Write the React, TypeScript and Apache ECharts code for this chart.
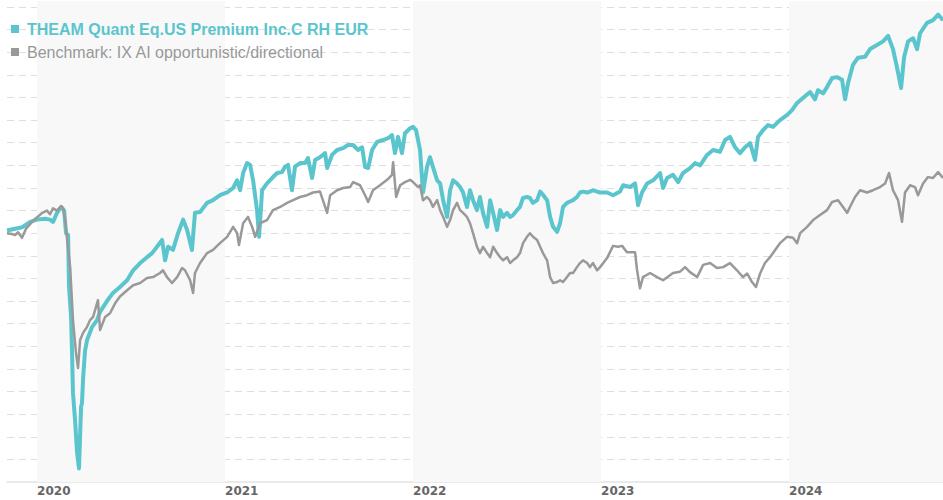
import React, { useEffect, useRef } from "react";
import * as echarts from "echarts";

const seriesNames = [
  "THEAM Quant Eq.US Premium Inc.C RH EUR",
  "Benchmark: IX AI opportunistic/directional",
];
const yearTicks = [2020, 2021, 2022, 2023, 2024];
const shadedYears = [2020, 2022, 2024];
const xStart = 2019.84;
const xEnd = 2024.819;

// time in decimal years
const tealX = [2019.840, 2019.883, 2019.920, 2019.963, 2020.000, 2020.043, 2020.069, 2020.085, 2020.106, 2020.128, 2020.144, 2020.154, 2020.165, 2020.170, 2020.181, 2020.186, 2020.191, 2020.202, 2020.213, 2020.223, 2020.234, 2020.239, 2020.245, 2020.255, 2020.266, 2020.293, 2020.319, 2020.335, 2020.372, 2020.404, 2020.441, 2020.479, 2020.511, 2020.548, 2020.585, 2020.612, 2020.638, 2020.665, 2020.681, 2020.697, 2020.723, 2020.750, 2020.777, 2020.798, 2020.824, 2020.840, 2020.867, 2020.904, 2020.936, 2020.973, 2021.011, 2021.043, 2021.064, 2021.080, 2021.096, 2021.117, 2021.133, 2021.149, 2021.170, 2021.181, 2021.197, 2021.223, 2021.250, 2021.277, 2021.303, 2021.319, 2021.335, 2021.356, 2021.372, 2021.399, 2021.426, 2021.441, 2021.463, 2021.479, 2021.505, 2021.532, 2021.543, 2021.569, 2021.596, 2021.628, 2021.654, 2021.681, 2021.707, 2021.729, 2021.745, 2021.761, 2021.782, 2021.809, 2021.840, 2021.867, 2021.888, 2021.904, 2021.920, 2021.941, 2021.957, 2021.984, 2022.000, 2022.016, 2022.037, 2022.053, 2022.074, 2022.090, 2022.106, 2022.128, 2022.144, 2022.160, 2022.181, 2022.197, 2022.213, 2022.234, 2022.250, 2022.266, 2022.287, 2022.303, 2022.319, 2022.340, 2022.356, 2022.372, 2022.394, 2022.410, 2022.426, 2022.447, 2022.463, 2022.479, 2022.500, 2022.516, 2022.532, 2022.553, 2022.569, 2022.585, 2022.606, 2022.622, 2022.638, 2022.660, 2022.676, 2022.691, 2022.713, 2022.729, 2022.745, 2022.766, 2022.782, 2022.798, 2022.819, 2022.835, 2022.851, 2022.872, 2022.888, 2022.904, 2022.926, 2022.941, 2022.957, 2022.979, 2022.995, 2023.032, 2023.064, 2023.101, 2023.117, 2023.154, 2023.181, 2023.197, 2023.218, 2023.245, 2023.277, 2023.314, 2023.330, 2023.351, 2023.383, 2023.410, 2023.436, 2023.473, 2023.500, 2023.527, 2023.564, 2023.596, 2023.633, 2023.660, 2023.686, 2023.713, 2023.739, 2023.766, 2023.793, 2023.819, 2023.835, 2023.862, 2023.888, 2023.915, 2023.952, 2023.989, 2024.016, 2024.043, 2024.074, 2024.112, 2024.138, 2024.154, 2024.181, 2024.202, 2024.229, 2024.255, 2024.282, 2024.298, 2024.314, 2024.340, 2024.367, 2024.404, 2024.431, 2024.468, 2024.500, 2024.527, 2024.553, 2024.574, 2024.596, 2024.612, 2024.633, 2024.660, 2024.681, 2024.697, 2024.734, 2024.766, 2024.793, 2024.819];

const tealY = [100.6, 101.0, 101.3, 102.5, 103.0, 103.2, 103.0, 102.5, 104.5, 105.8, 105.0, 100.0, 99.6, 88.0, 81.5, 73.5, 64.7, 58.7, 51.4, 48.0, 61.6, 62.5, 68.0, 74.0, 76.4, 79.3, 80.8, 82.6, 85.0, 86.8, 88.1, 89.6, 91.8, 93.4, 94.7, 95.6, 97.0, 98.5, 94.0, 97.0, 96.3, 100.0, 103.0, 100.7, 96.3, 104.5, 104.7, 106.7, 107.3, 108.4, 109.0, 110.0, 111.7, 109.5, 113.3, 115.5, 115.1, 111.7, 105.1, 99.2, 109.5, 111.0, 112.2, 113.3, 113.5, 114.7, 115.1, 109.5, 114.7, 115.5, 115.5, 116.6, 112.2, 116.2, 116.8, 117.7, 114.4, 117.3, 118.4, 118.8, 119.5, 119.5, 118.4, 119.0, 114.6, 114.4, 118.4, 120.2, 120.6, 121.0, 121.7, 117.7, 121.3, 117.7, 122.1, 123.2, 123.5, 122.8, 118.4, 109.0, 114.6, 116.8, 114.6, 111.7, 111.0, 107.3, 103.6, 109.5, 111.7, 111.0, 110.2, 109.0, 105.8, 109.5, 107.3, 105.1, 108.0, 104.5, 101.4, 107.3, 104.5, 100.7, 105.1, 103.6, 104.5, 103.6, 104.0, 105.1, 105.8, 107.8, 108.0, 107.8, 106.7, 107.3, 109.2, 108.5, 107.3, 103.6, 101.4, 100.3, 102.2, 105.8, 106.7, 107.0, 107.3, 108.0, 109.0, 109.2, 109.0, 109.2, 109.5, 109.2, 109.0, 109.0, 108.4, 109.2, 110.6, 110.2, 111.0, 106.2, 109.0, 111.0, 111.7, 113.3, 110.0, 112.2, 112.9, 111.3, 113.3, 114.4, 115.5, 115.0, 117.3, 118.4, 118.0, 120.6, 121.3, 119.0, 117.7, 119.0, 119.9, 116.2, 121.3, 122.8, 123.9, 123.5, 125.0, 126.1, 127.2, 128.8, 129.9, 131.2, 129.6, 131.6, 130.9, 132.3, 134.3, 134.5, 133.9, 129.6, 133.2, 137.2, 138.8, 139.0, 140.7, 141.6, 142.4, 143.6, 140.7, 136.7, 132.1, 138.9, 142.4, 143.1, 140.7, 144.2, 146.5, 147.1, 148.3, 147.1];

const benchX = [2019.840, 2019.867, 2019.883, 2019.899, 2019.920, 2019.941, 2019.963, 2019.984, 2020.000, 2020.027, 2020.053, 2020.069, 2020.085, 2020.106, 2020.128, 2020.138, 2020.149, 2020.160, 2020.176, 2020.191, 2020.207, 2020.218, 2020.229, 2020.245, 2020.266, 2020.282, 2020.298, 2020.324, 2020.335, 2020.362, 2020.388, 2020.415, 2020.441, 2020.479, 2020.511, 2020.548, 2020.585, 2020.617, 2020.654, 2020.670, 2020.691, 2020.718, 2020.745, 2020.771, 2020.787, 2020.814, 2020.830, 2020.840, 2020.867, 2020.904, 2020.936, 2020.973, 2021.011, 2021.043, 2021.064, 2021.074, 2021.096, 2021.122, 2021.144, 2021.160, 2021.186, 2021.223, 2021.255, 2021.293, 2021.330, 2021.362, 2021.399, 2021.436, 2021.468, 2021.505, 2021.543, 2021.559, 2021.596, 2021.628, 2021.665, 2021.681, 2021.718, 2021.745, 2021.761, 2021.787, 2021.824, 2021.862, 2021.888, 2021.894, 2021.910, 2021.931, 2021.957, 2021.984, 2022.000, 2022.027, 2022.037, 2022.053, 2022.074, 2022.090, 2022.106, 2022.128, 2022.144, 2022.160, 2022.181, 2022.197, 2022.213, 2022.234, 2022.250, 2022.266, 2022.287, 2022.303, 2022.319, 2022.340, 2022.356, 2022.372, 2022.394, 2022.410, 2022.426, 2022.447, 2022.463, 2022.479, 2022.500, 2022.516, 2022.532, 2022.553, 2022.569, 2022.585, 2022.606, 2022.622, 2022.638, 2022.660, 2022.676, 2022.691, 2022.713, 2022.729, 2022.745, 2022.766, 2022.782, 2022.798, 2022.819, 2022.835, 2022.851, 2022.872, 2022.888, 2022.904, 2022.926, 2022.941, 2022.957, 2022.979, 2022.995, 2023.032, 2023.064, 2023.090, 2023.112, 2023.138, 2023.181, 2023.191, 2023.207, 2023.223, 2023.261, 2023.298, 2023.330, 2023.383, 2023.420, 2023.447, 2023.473, 2023.511, 2023.543, 2023.580, 2023.617, 2023.649, 2023.686, 2023.723, 2023.755, 2023.777, 2023.803, 2023.824, 2023.846, 2023.872, 2023.899, 2023.926, 2023.952, 2023.989, 2024.021, 2024.043, 2024.059, 2024.096, 2024.128, 2024.165, 2024.202, 2024.229, 2024.261, 2024.287, 2024.309, 2024.324, 2024.351, 2024.378, 2024.415, 2024.447, 2024.484, 2024.511, 2024.532, 2024.553, 2024.580, 2024.601, 2024.617, 2024.644, 2024.670, 2024.686, 2024.713, 2024.739, 2024.766, 2024.793, 2024.819];

const benchY = [100.0, 99.8, 99.6, 100.2, 99.0, 101.0, 102.0, 103.0, 103.5, 104.5, 105.0, 104.2, 105.5, 105.0, 106.0, 105.6, 103.0, 98.5, 92.5, 80.8, 73.5, 70.2, 76.4, 78.0, 79.3, 80.8, 81.5, 85.2, 78.6, 81.5, 82.3, 84.5, 86.0, 87.4, 88.5, 89.0, 90.1, 90.3, 91.2, 91.8, 90.3, 89.0, 90.3, 92.3, 91.8, 89.6, 86.8, 91.2, 93.4, 95.6, 96.3, 97.8, 99.2, 101.4, 100.0, 97.4, 102.2, 103.6, 101.4, 99.2, 102.2, 102.9, 105.1, 105.8, 106.7, 107.3, 108.0, 108.4, 109.0, 109.2, 104.5, 108.4, 109.5, 110.0, 110.2, 111.3, 110.6, 108.4, 106.9, 109.5, 110.6, 111.8, 112.9, 115.7, 108.0, 110.6, 111.3, 111.8, 111.3, 110.2, 110.6, 107.3, 108.0, 107.3, 105.8, 107.3, 105.1, 103.6, 101.4, 102.9, 105.1, 106.7, 105.1, 104.5, 103.6, 102.2, 100.0, 97.0, 95.6, 97.0, 95.6, 94.7, 97.0, 95.6, 94.7, 94.0, 94.7, 93.4, 94.0, 94.7, 95.6, 97.8, 99.2, 100.0, 99.2, 98.5, 97.0, 95.6, 94.0, 90.3, 89.0, 89.2, 89.6, 89.2, 90.3, 91.2, 91.2, 92.5, 93.4, 94.0, 93.4, 92.5, 93.4, 91.8, 92.5, 94.5, 97.2, 97.0, 97.2, 95.8, 95.8, 92.0, 87.8, 90.3, 91.2, 90.3, 89.6, 91.2, 91.5, 92.5, 91.4, 90.3, 93.0, 93.4, 92.3, 92.5, 93.4, 91.8, 90.3, 91.1, 89.2, 88.1, 91.1, 93.4, 94.7, 96.3, 97.8, 99.2, 99.0, 97.8, 100.0, 101.4, 102.9, 104.0, 105.1, 106.9, 107.3, 105.8, 104.5, 105.8, 108.0, 109.5, 109.0, 109.5, 110.2, 111.0, 113.3, 109.5, 107.3, 102.5, 109.0, 110.6, 110.2, 108.4, 111.0, 112.4, 112.2, 113.5, 112.2];

const TEAL = "#5bc5cd";
const GRAY = "#999999";

export default function App() {
  const ref = useRef<HTMLDivElement>(null);
  useEffect(() => {
    document.body.style.margin = "0";
    if (!ref.current) return;
    const chart = echarts.init(ref.current, null, { renderer: "svg" });
    chart.setOption({
      animation: false,
      backgroundColor: "#ffffff",
      grid: { left: 7, right: 0, top: 1, bottom: 18, containLabel: false },
      legend: {
        orient: "vertical",
        left: 11,
        top: 21,
        padding: 0,
        itemWidth: 8,
        itemHeight: 8,
        itemGap: 7,
        selectedMode: false,
        textStyle: {
          fontFamily: "Liberation Sans, Arial, sans-serif",
          fontSize: 16,
          lineHeight: 16,
          padding: [0, 0, 0, 3],
        },
        data: [
          { name: seriesNames[0], icon: "rect", textStyle: { color: TEAL, fontWeight: "bold" } },
          { name: seriesNames[1], icon: "rect", textStyle: { color: GRAY } },
        ],
      },
      xAxis: {
        type: "value",
        min: xStart,
        max: xEnd,
        axisLine: { show: true, lineStyle: { color: "#e3e3e3", width: 1.5 } },
        axisTick: { show: false },
        splitLine: { show: false },
        axisLabel: {
          customValues: yearTicks,
          formatter: (v: number) => String(Math.round(v)),
          align: "left",
          margin: 3,
          color: "#666666",
          fontFamily: "DejaVu Sans, sans-serif",
          fontWeight: "bold",
          fontSize: 12,
        },
      },
      yAxis: {
        type: "value",
        min: 45,
        max: 151.33,
        interval: 5,
        axisLine: { show: false },
        axisTick: { show: false },
        axisLabel: { show: false },
        splitLine: {
          show: true,
          showMinLine: false,
          showMaxLine: false,
          lineStyle: { color: "#dedede", width: 1, type: [7, 5] },
        },
      },
      series: [
        {
          name: seriesNames[0],
          type: "line",
          data: tealX.map((x, i) => [x, tealY[i]]),
          showSymbol: false,
          symbol: "none",
          color: TEAL,
          lineStyle: { color: TEAL, width: 4, join: "round" },
          z: 2,
          markArea: {
            silent: true,
            itemStyle: { color: "#f8f8f8" },
            data: shadedYears.map((y) => [{ xAxis: y }, { xAxis: Math.min(y + 1, xEnd) }]),
          },
        },
        {
          name: seriesNames[1],
          type: "line",
          data: benchX.map((x, i) => [x, benchY[i]]),
          showSymbol: false,
          symbol: "none",
          color: GRAY,
          lineStyle: { color: GRAY, width: 2.5, join: "round" },
          z: 3,
        },
      ],
    });
    return () => chart.dispose();
  }, []);
  return <div ref={ref} style={{ width: 943, height: 500 }} />;
}
